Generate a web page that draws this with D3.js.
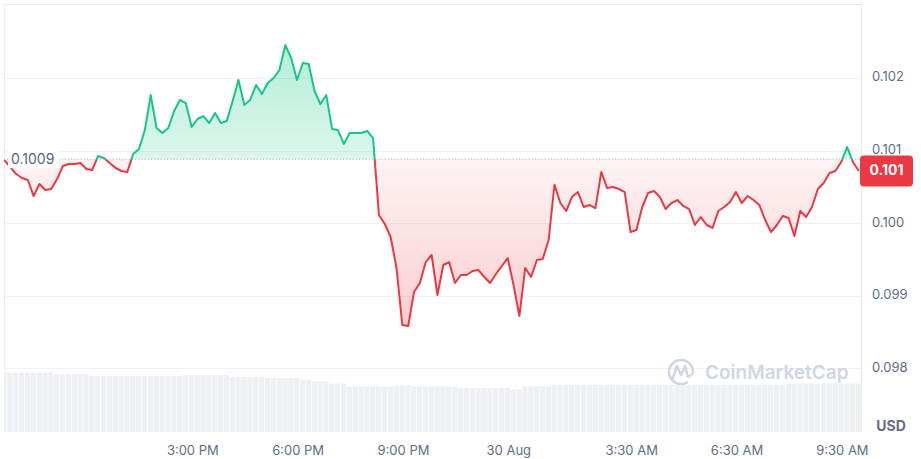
<!DOCTYPE html>
<html><head><meta charset="utf-8">
<script src="https://cdn.jsdelivr.net/npm/d3@7"></script>
<style>body{margin:0;background:#fff;} svg{display:block;font-family:Inter,"Noto Sans",sans-serif;}</style>
</head><body><svg id="c" width="921" height="459"></svg>
<script>
// ---- data ----
const startTime = "2024-08-29T09:38:00";
const stepMinutes = 10;
const prices = [
0.100869,0.100773,0.100676,0.100621,0.100594,0.100373,0.100539,0.100456,0.100470,0.100607,
0.100787,0.100814,0.100814,0.100828,0.100745,0.100731,0.100924,0.100897,0.100828,0.100759,
0.100718,0.100704,0.100952,0.101021,0.101282,0.101764,0.101310,0.101241,0.101310,0.101544,
0.101696,0.101654,0.101324,0.101434,0.101475,0.101379,0.101517,0.101379,0.101406,0.101682,
0.101971,0.101627,0.101696,0.101902,0.101778,0.101930,0.101999,0.102109,0.102453,0.102274,
0.101971,0.102205,0.102191,0.101820,0.101640,0.101764,0.101296,0.101282,0.101090,0.101241,
0.101241,0.101241,0.101269,0.101172,0.100112,0.099988,0.099809,0.099382,0.098596,0.098583,
0.099051,0.099175,0.099464,0.099561,0.099010,0.099423,0.099464,0.099175,0.099285,0.099285,
0.099340,0.099354,0.099258,0.099175,0.099299,0.099409,0.099519,0.099147,0.098720,0.099382,
0.099258,0.099492,0.099506,0.099767,0.100530,0.100277,0.100167,0.100360,0.100428,0.100222,
0.100249,0.100208,0.100704,0.100483,0.100497,0.100470,0.100428,0.099877,0.099905,0.100222,
0.100415,0.100442,0.100360,0.100194,0.100277,0.100318,0.100236,0.100194,0.099974,0.100084,
0.099974,0.099933,0.100167,0.100222,0.100291,0.100428,0.100277,0.100373,0.100318,0.100249,
0.100043,0.099877,0.099974,0.100098,0.100070,0.099822,0.100167,0.100084,0.100222,0.100470,
0.100552,0.100690,0.100718,0.100842,0.101048,0.100842,0.100718
];
const volumes = [
60,59.5,59.5,59.5,59.5,59.5,59.5,59.5,59.5,
58,58,58,58,58,58,
56,56,56,56,56,56,56,56,56,56,56,56,56,56,56,56,
57,57,57,57,57,57,57,57,
55,55,55,55,55,55,
54,54,54,54,54,54,
52.5,52.5,
50.5,50.5,50.5,
48.5,48.5,48.5,
45.5,45.5,45.5,45.5,45.5,45.5,45.5,45.5,
46.5,46.5,46.5,
45.5,45.5,45.5,45.5,45.5,45.5,45.5,45.5,
44,44,44,44,44,44,44,44,44,
42.5,42.5,
45.5,45.5,45.5,45.5,45.5,
47,47,47,47,47,47,47,47,47,47,47,47,47,47,47,47,47,47,47,47,
47,47,47,47,47,47,47,47,47,47,47,47,47,47,47,47,47,47,47,47,
48.5,48.5,48.5,48.5,48.5,48.5,48.5,48.5,48.5,48.5,48.5,48.5,48.5
];
const baseline = 0.10088;
const baselineLabel = "0.1009";
const lastPriceLabel = "0.101";
const yTicks = [0.098, 0.099, 0.100, 0.101, 0.102];
const yTickLabels = ["0.098", "0.099", "0.100", "0.101", "0.102"];
const xTickTimes = ["2024-08-29T15:00:00","2024-08-29T18:00:00","2024-08-29T21:00:00","2024-08-30T00:00:00","2024-08-30T03:30:00","2024-08-30T06:30:00","2024-08-30T09:30:00"];
const xTickLabels = ["3:00 PM","6:00 PM","9:00 PM","30 Aug","3:30 AM","6:30 AM","9:30 AM"];
const currency = "USD";
const watermark = "CoinMarketCap";

// ---- layout ----
const L = 4, R = 861, T = 4, B = 432;
const GREEN = "#16c784", RED = "#ea3943";
const t0 = new Date(startTime);
const data = prices.map((p, i) => ({t: new Date(t0.getTime() + i * stepMinutes * 60000), p, v: volumes[i]}));
const tEnd = data[data.length - 1].t;

const x = d3.scaleTime().domain([t0, tEnd]).range([4.4, 858.8]);
const y = d3.scaleLinear().domain([0.097123, 0.103018]).range([B, T]);
const yv = d3.scaleLinear().domain([0, 60]).range([B, 372]);

const svg = d3.select("#c");
const defs = svg.append("defs");
const yb = y(baseline);

defs.append("clipPath").attr("id", "above").append("rect").attr("x", 0).attr("y", 0).attr("width", 921).attr("height", yb);
defs.append("clipPath").attr("id", "below").append("rect").attr("x", 0).attr("y", yb).attr("width", 921).attr("height", 459 - yb);
defs.append("clipPath").attr("id", "plot").append("rect").attr("x", L).attr("y", T).attr("width", R - L).attr("height", B - T);

const gg = defs.append("linearGradient").attr("id", "gG").attr("gradientUnits", "userSpaceOnUse")
  .attr("x1", 0).attr("x2", 0).attr("y1", y(d3.max(prices))).attr("y2", yb);
gg.append("stop").attr("offset", 0).attr("stop-color", GREEN).attr("stop-opacity", 0.32);
gg.append("stop").attr("offset", 1).attr("stop-color", GREEN).attr("stop-opacity", 0.15);
const rg = defs.append("linearGradient").attr("id", "gR").attr("gradientUnits", "userSpaceOnUse")
  .attr("x1", 0).attr("x2", 0).attr("y1", yb).attr("y2", y(d3.min(prices)));
rg.append("stop").attr("offset", 0).attr("stop-color", RED).attr("stop-opacity", 0.06);
rg.append("stop").attr("offset", 1).attr("stop-color", RED).attr("stop-opacity", 0.25);

// frame + grid
svg.append("line").attr("x1", L).attr("x2", R).attr("y1", T + 0.5).attr("y2", T + 0.5).attr("stroke", "#e6e9ee");
svg.append("line").attr("x1", L + 0.5).attr("x2", L + 0.5).attr("y1", T).attr("y2", B).attr("stroke", "#eceef2");
svg.append("line").attr("x1", R + 0.5).attr("x2", R + 0.5).attr("y1", T).attr("y2", B).attr("stroke", "#eceef2");
svg.append("g").selectAll("line").data(yTicks).join("line")
  .attr("x1", L).attr("x2", R)
  .attr("y1", d => Math.round(y(d)) + 0.5).attr("y2", d => Math.round(y(d)) + 0.5)
  .attr("stroke", "#eff1f4");

// volume bars
const step = x(data[1].t) - x(data[0].t);
svg.append("g").attr("clip-path", "url(#plot)").selectAll("rect").data(data).join("rect")
  .attr("x", d => x(d.t) - step / 2)
  .attr("width", step - 0.6)
  .attr("y", d => yv(d.v))
  .attr("height", d => B - yv(d.v))
  .attr("fill", "#eef0f4");

// watermark
const wm = svg.append("g").attr("fill", "none").attr("stroke", "#cfd6e4").attr("stroke-width", 2.6).attr("stroke-linecap", "round").attr("stroke-linejoin", "round");
wm.append("path").attr("d", d3.arc()({innerRadius: 12, outerRadius: 12, startAngle: 2.6, endAngle: 2.6 + 2 * Math.PI - 0.9})).attr("transform", "translate(681,372)");
wm.append("path").attr("d", "M673,378 L677,366 L681,375 L685,366 L688,377 L691,375");
svg.append("text").attr("x", 705).attr("y", 379).attr("font-size", 19).attr("font-weight", 600)
  .attr("fill", "#cfd6e4").text(watermark);

// areas
const area = d3.area().x(d => x(d.t)).y0(yb).y1(d => y(d.p));
const line = d3.line().x(d => x(d.t)).y(d => y(d.p));
svg.append("path").datum(data).attr("d", area).attr("fill", "url(#gG)").attr("clip-path", "url(#above)");
svg.append("path").datum(data).attr("d", area).attr("fill", "url(#gR)").attr("clip-path", "url(#below)");

// baseline dotted
svg.append("line").attr("x1", L).attr("x2", R).attr("y1", yb).attr("y2", yb)
  .attr("stroke", "#a6b0c3").attr("stroke-width", 1).attr("stroke-dasharray", "1 2.2");

// lines
svg.append("path").datum(data).attr("d", line).attr("fill", "none").attr("stroke", GREEN).attr("stroke-width", 2).attr("stroke-linejoin", "round").attr("clip-path", "url(#above)");
svg.append("path").datum(data).attr("d", line).attr("fill", "none").attr("stroke", RED).attr("stroke-width", 2).attr("stroke-linejoin", "round").attr("clip-path", "url(#below)");

// baseline label
svg.append("rect").attr("x", 8).attr("y", yb - 9).attr("width", 51).attr("height", 18).attr("rx", 3).attr("fill", "#fff");
svg.append("text").attr("x", 11).attr("y", yb + 0.5).attr("dominant-baseline", "middle").attr("font-size", 14)
  .attr("fill", "#58667e").text(baselineLabel);

// right axis ticks
svg.append("g").selectAll("text").data(yTicks).join("text")
  .attr("x", 872).attr("y", d => y(d)).attr("dominant-baseline", "middle")
  .attr("font-size", 13).attr("fill", "#616e85")
  .text((d, i) => yTickLabels[i]);

// last price label
const lastY = y(prices[prices.length - 1]);
svg.append("rect").attr("x", 860).attr("y", lastY - 15.5).attr("width", 53).attr("height", 31).attr("rx", 4).attr("fill", RED);
svg.append("text").attr("x", 886.5).attr("y", lastY + 0.5).attr("text-anchor", "middle").attr("dominant-baseline", "middle")
  .attr("font-size", 14).attr("font-weight", 700).attr("fill", "#fff").text(lastPriceLabel);

// USD
svg.append("text").attr("x", 891).attr("y", 427).attr("text-anchor", "middle").attr("dominant-baseline", "middle")
  .attr("font-size", 14).attr("font-weight", 700).attr("fill", "#616e85").text(currency);

// x axis labels
svg.append("g").selectAll("text").data(xTickTimes).join("text")
  .attr("x", d => x(new Date(d))).attr("y", 451).attr("text-anchor", "middle").attr("dominant-baseline", "middle")
  .attr("font-size", 13).attr("fill", "#616e85")
  .text((d, i) => xTickLabels[i]);
</script>
</body></html>
